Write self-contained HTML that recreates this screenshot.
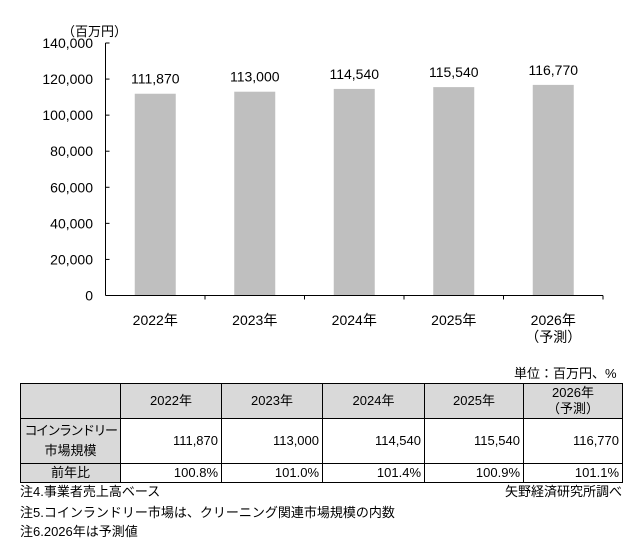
<!DOCTYPE html>
<html><head><meta charset="utf-8">
<style>
body{margin:0;background:#fff;width:638px;height:554px;overflow:hidden;font-family:"Liberation Sans","Noto Sans CJK JP",sans-serif;color:#000}
svg text{font-family:"Liberation Sans","Noto Sans CJK JP",sans-serif}
table{position:absolute;left:20px;top:383px;border-collapse:collapse;font-size:13px;table-layout:fixed;width:602px}
td{border:1px solid #000;padding:0 3px;line-height:16px;overflow:hidden;white-space:nowrap}
.g{background:#d9d9d9;text-align:center}
.r{text-align:right}
.note{position:absolute;font-size:13px;line-height:16px;white-space:nowrap}
</style></head><body>
<svg width="638" height="554" style="position:absolute;left:0;top:0">
<g id="chart"></g>
</svg>
<div class="note" style="left:514px;top:366px">単位：百万円、%</div>
<table>
<colgroup><col style="width:100px"><col style="width:101px"><col style="width:101px"><col style="width:102px"><col style="width:99px"><col style="width:99px"></colgroup>
<tr style="height:35px"><td class="g"></td>
<td class="g">2022年</td>
<td class="g">2023年</td>
<td class="g">2024年</td>
<td class="g">2025年</td>
<td class="g">2026年<br>（予測）</td></tr>
<tr style="height:45px"><td class="g" style="padding:0;line-height:20px"><span style="letter-spacing:-1.5px">コインランドリー</span><br>市場規模</td>
<td class="r">111,870</td>
<td class="r">113,000</td>
<td class="r">114,540</td>
<td class="r">115,540</td>
<td class="r">116,770</td></tr>
<tr style="height:19px"><td class="g">前年比</td>
<td class="r">100.8%</td>
<td class="r">101.0%</td>
<td class="r">101.4%</td>
<td class="r">100.9%</td>
<td class="r">101.1%</td></tr>
</table>
<div class="note" style="left:20px;top:484px">注4.事業者売上高ベース</div>
<div class="note" style="left:505px;top:484px">矢野経済研究所調べ</div>
<div class="note" style="left:20px;top:505px">注5.コインランドリー市場は、クリーニング関連市場規模の内数</div>
<div class="note" style="left:20px;top:524px">注6.2026年は予測値</div>
<script>
const categories=["2022年","2023年","2024年","2025年","2026年"];
const values=[111870,113000,114540,115540,116770];
const valueLabels=["111,870","113,000","114,540","115,540","116,770"];
const yTicks=[0,20000,40000,60000,80000,100000,120000,140000];
const yTickLabels=["0","20,000","40,000","60,000","80,000","100,000","120,000","140,000"];
const NS="http://www.w3.org/2000/svg";
const g=document.getElementById('chart');
const x0=105.5,x1=603,yb=295.5,yt=43,ymax=140000;
const bw=(x1-x0)/categories.length;
function y(v){return yb-(v/ymax)*(yb-yt);}
function xc(i){return x0+bw*(i+0.5);}
function mk(t,a,txt){const e=document.createElementNS(NS,t);for(const k in a)e.setAttribute(k,a[k]);if(txt!==undefined)e.textContent=txt;g.appendChild(e);return e;}
let e=mk('text',{x:62,y:36,'font-size':13},'（百万円）');


values.forEach((v,i)=>{
 const b=mk('rect',{x:xc(i)-20.5,y:y(v),width:41,height:yb-y(v),fill:'#bfbfbf'});
 
 
 const t=mk('text',{x:xc(i),y:y(v)-10,'font-size':14,'text-anchor':'middle'},valueLabels[i]);
 
 
 const c=mk('text',{x:xc(i),y:325,'font-size':14,'text-anchor':'middle'},categories[i]);
 
 
 const tk=mk('line',{x1:x0+bw*(i+1),x2:x0+bw*(i+1),y1:yb,y2:yb+4,stroke:'#000'});
 
 
});
const p=mk('text',{x:xc(4),y:342,'font-size':14,'text-anchor':'middle'},'（予測）');


yTicks.forEach((v,i)=>{
 const t=mk('text',{x:93,y:y(v)+5,'font-size':14,'text-anchor':'end'},yTickLabels[i]);
 
 
 const l=mk('line',{x1:x0,x2:x0+4,y1:y(v),y2:y(v),stroke:'#000'});
 
 
});
const ya=mk('line',{x1:x0,x2:x0,y1:yt,y2:yb,stroke:'#000'});


const xa=mk('line',{x1:x0,x2:x1,y1:yb,y2:yb,stroke:'#000'});


</script>
</body></html>
